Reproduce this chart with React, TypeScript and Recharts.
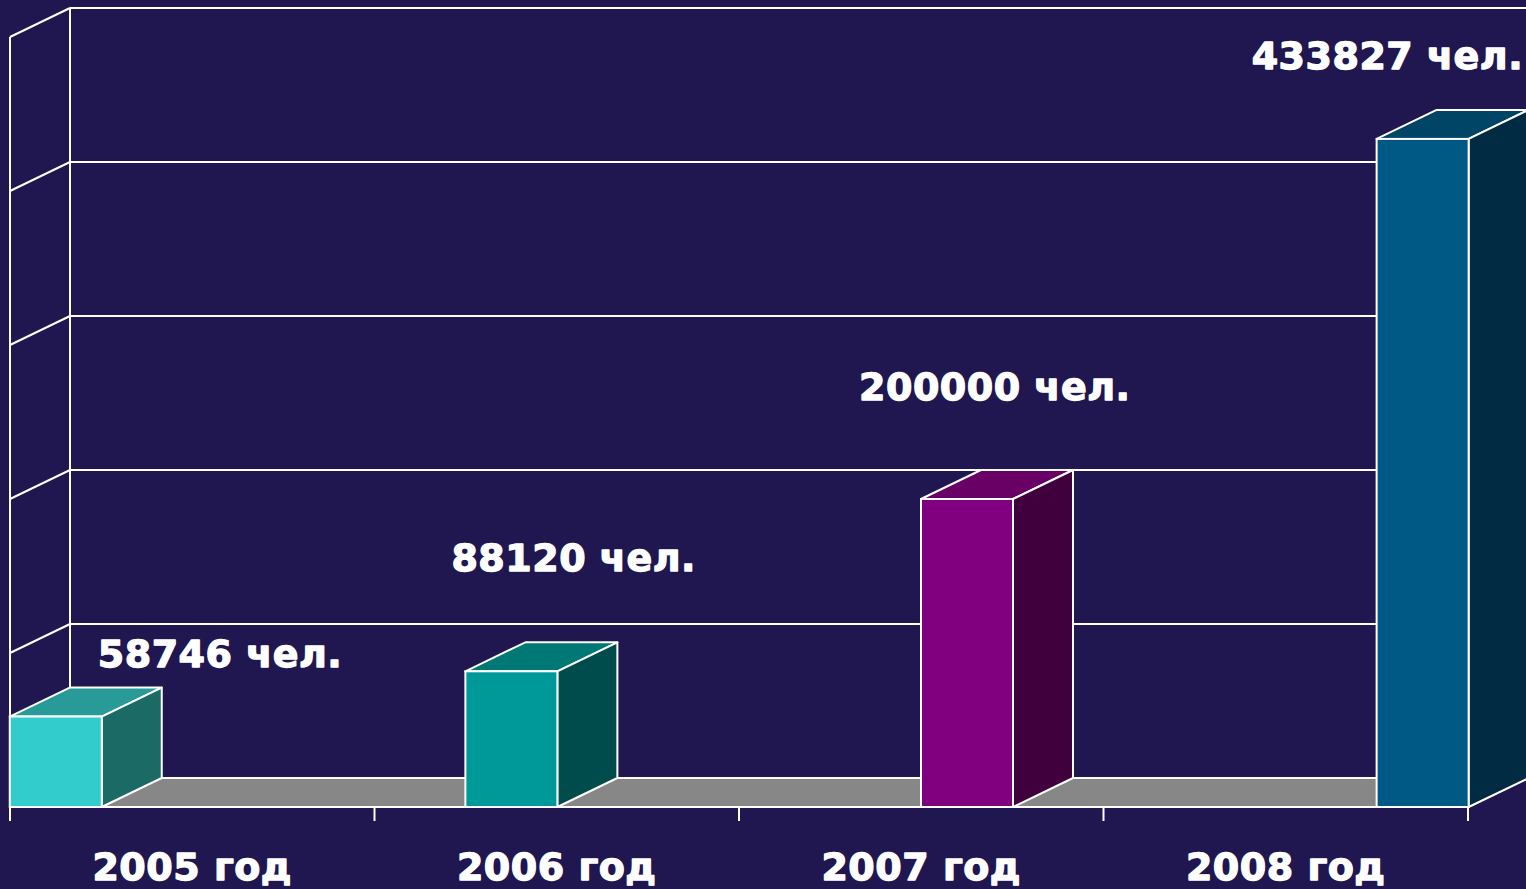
import React from 'react';
import { BarChart, Bar, XAxis, YAxis, CartesianGrid, LabelList } from 'recharts';

// ---------- data ----------
const years = ['2005 год', '2006 год', '2007 год', '2008 год'];
const people = [58746, 88120, 200000, 433827];
const unitLabel = 'чел.';
const yTicks = [0, 100000, 200000, 300000, 400000, 500000];

const data = years.map((year, i) => ({ year, idx: i, value: people[i] }));

// ---------- layout / style ----------
const W = 1526;
const H = 889;
const MARGIN = { top: 37, right: 58, bottom: 22, left: 10 };
const XAXIS_H = 60;
const FLOOR_Y = H - MARGIN.bottom - XAXIS_H;
const DX = 60;
const DY = -29;
const TICK_LEN = 14;
const PAD = 0.1;
const DOMAIN: [number, number] = [-PAD, years.length - 1 + PAD];
const STEP = (DOMAIN[1] - DOMAIN[0]) / years.length;
const BOUNDARIES = Array.from({ length: years.length + 1 }, (_, k) => DOMAIN[0] + k * STEP);

const BG = '#201650';
const LINE = '#ffffff';
const FLOOR = '#878787';
const FONT = '"DejaVu Sans", "Liberation Sans", Arial, sans-serif';

const BAR_COLORS = [
  { front: '#33cccc', top: '#289a98', side: '#1b6a66' },
  { front: '#009999', top: '#007876', side: '#004c4c' },
  { front: '#800080', top: '#680066', side: '#40003e' },
  { front: '#005885', top: '#004466', side: '#002b42' },
];
const LABEL_OFFSETS: [number, number][] = [
  [88, -50],
  [-14, -100],
  [-62, -99],
  [-125, -70],
];

const Bar3D = (props: any) => {
  const { x, y, width, height } = props;
  const i = props.payload?.idx ?? props.index ?? 0;
  const c = BAR_COLORS[i];
  const w = width;
  const h = height;
  const sw = 2;
  return (
    <g>
      <polygon
        points={`${x},${y} ${x + w},${y} ${x + w + DX},${y + DY} ${x + DX},${y + DY}`}
        fill={c.top}
        stroke={LINE}
        strokeWidth={sw}
        strokeLinejoin="round"
      />
      <polygon
        points={`${x + w},${y} ${x + w + DX},${y + DY} ${x + w + DX},${y + h + DY} ${x + w},${y + h}`}
        fill={c.side}
        stroke={LINE}
        strokeWidth={sw}
        strokeLinejoin="round"
      />
      <rect x={x} y={y} width={w} height={h} fill={c.front} stroke={LINE} strokeWidth={sw} />
    </g>
  );
};

const textStyle = {
  fill: '#ffffff',
  stroke: '#ffffff',
  strokeWidth: 1.3,
  strokeLinejoin: 'round' as const,
  fontFamily: FONT,
  fontWeight: 'bold' as const,
  fontSize: 38,
  letterSpacing: 0.5,
};

const renderLabel = (p: any) => {
  const idx = p.index ?? people.indexOf(Number(p.value));
  const [ox, oy] = LABEL_OFFSETS[idx] ?? [0, -20];
  return (
    <text x={Number(p.x) + ox} y={Number(p.y) + oy} textAnchor="start" style={textStyle}>
      {`${p.value} ${unitLabel}`}
    </text>
  );
};

const renderTick = (p: any) => (
  <text x={p.x} y={FLOOR_Y + 73} textAnchor="middle" style={textStyle}>
    {p.payload.value}
  </text>
);

const renderH = (p: any) => {
  const { x1, x2, y1 } = p;
  const isFloor = Math.abs(y1 - FLOOR_Y) < 0.5;
  return (
    <g key={p.key}>
      {isFloor && (
        <polygon
          points={`${x1},${y1} ${x2},${y1} ${x2 + DX},${y1 + DY} ${x1 + DX},${y1 + DY}`}
          fill={FLOOR}
        />
      )}
      <line x1={x1 + DX} y1={y1 + DY} x2={x2 + DX} y2={y1 + DY} stroke={LINE} strokeWidth={2} />
      <line x1={x1} y1={y1} x2={x1 + DX} y2={y1 + DY} stroke={LINE} strokeWidth={2} />
      {isFloor && <line x1={x1} y1={y1} x2={x2} y2={y1} stroke={LINE} strokeWidth={2} />}
      {isFloor && <line x1={x2} y1={y1} x2={x2 + DX} y2={y1 + DY} stroke={LINE} strokeWidth={2} />}
    </g>
  );
};

const renderV = (p: any) => {
  const { x1, y1, y2 } = p;
  const isLeft = Math.abs(x1 - MARGIN.left) < 0.5;
  return (
    <g key={p.key}>
      <line x1={x1} y1={y2} x2={x1} y2={y2 + TICK_LEN} stroke={LINE} strokeWidth={2} />
      {isLeft && <line x1={x1} y1={y1} x2={x1} y2={y2} stroke={LINE} strokeWidth={2} />}
      {isLeft && <line x1={x1 + DX} y1={y1 + DY} x2={x1 + DX} y2={y2 + DY} stroke={LINE} strokeWidth={2} />}
    </g>
  );
};

export default function App() {
  return (
    <div style={{ position: 'absolute', left: 0, top: 0, width: W, height: H, background: BG, overflow: 'hidden' }}>
      <BarChart width={W} height={H} data={data} margin={MARGIN}>
        <CartesianGrid xAxisId="num" horizontal={renderH} vertical={renderV} fill="none" />
        <XAxis
          xAxisId="cat"
          dataKey="year"
          type="category"
          height={XAXIS_H}
          axisLine={false}
          tickLine={false}
          interval={0}
          tick={renderTick}
        />
        <XAxis
          xAxisId="num"
          dataKey="idx"
          type="number"
          domain={DOMAIN}
          ticks={BOUNDARIES}
          hide
          height={0}
        />
        <YAxis hide width={0} domain={[0, 500000]} ticks={yTicks} />
        <Bar xAxisId="num" dataKey="value" barSize={92} shape={Bar3D} isAnimationActive={false}>
          <LabelList dataKey="value" content={renderLabel} />
        </Bar>
      </BarChart>
    </div>
  );
}
